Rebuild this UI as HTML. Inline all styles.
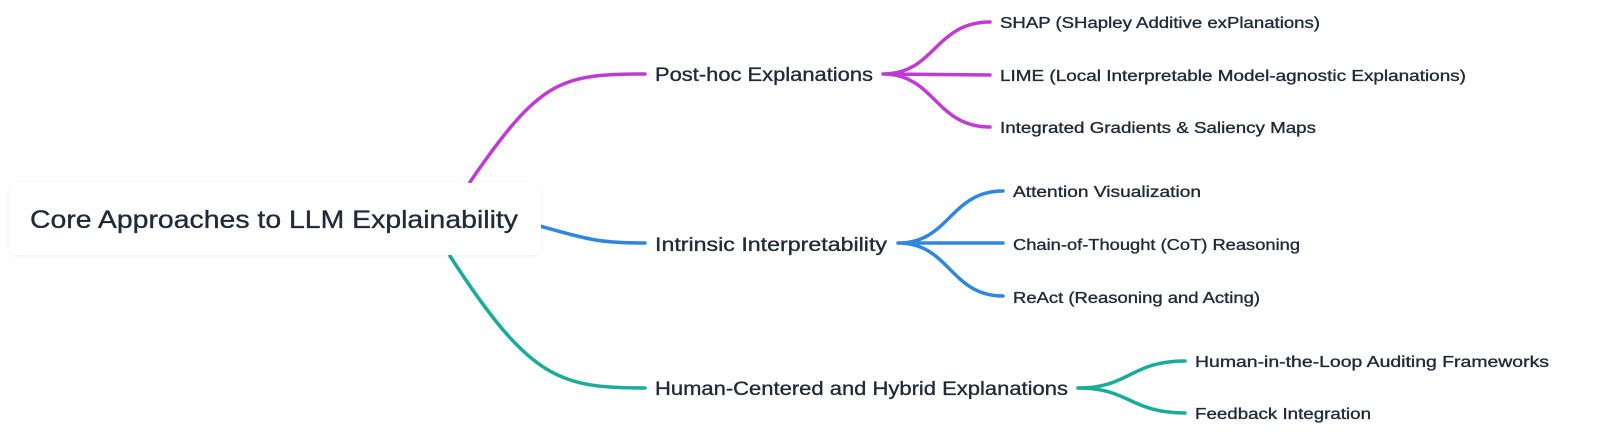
<!DOCTYPE html>
<html><head><meta charset="utf-8"><style>
html,body{margin:0;padding:0;background:#fff;width:1600px;height:445px;overflow:hidden}
text{font-family:"Liberation Sans",sans-serif;fill:#1f2b3a;stroke:#1f2b3a;stroke-width:0.35}
</style></head><body>
<svg width="1600" height="445" viewBox="0 0 1600 445" xmlns="http://www.w3.org/2000/svg">
<defs><filter id="sh" x="-5%" y="-20%" width="110%" height="140%"><feDropShadow dx="0" dy="1" stdDeviation="2" flood-color="#000" flood-opacity="0.06"/></filter></defs>
<g fill="none" stroke-width="3.5" stroke-linecap="round">
<path d="M470 182 C540 80,560 74,645 74" stroke="#c03bd4"/>
<path d="M540 226 C590 240,600 243,645 243" stroke="#2e86de"/>
<path d="M450 256 C530 380,560 388,645 388" stroke="#1aab9b"/>
<path d="M883 74 C935 74,935 22,990 22 M883 74 L990 75 M883 74 C935 74,935 127,990 127" stroke="#c03bd4"/>
<path d="M898 243 C950 243,950 191,1003 191 M898 243 L1003 243 M898 243 C950 243,950 296,1003 296" stroke="#2e86de"/>
<path d="M1078 388 C1130 388,1130 361,1185 361 M1078 388 C1130 388,1130 413,1185 413" stroke="#1aab9b"/>
</g>
<rect x="9" y="183" width="532" height="72" rx="8" fill="#fff" filter="url(#sh)"/>
<text x="30" y="228" font-size="25" textLength="488" lengthAdjust="spacingAndGlyphs">Core Approaches to LLM Explainability</text>
<g font-size="19">
<text x="655" y="81" textLength="218" lengthAdjust="spacingAndGlyphs">Post-hoc Explanations</text>
<text x="655" y="251" textLength="232" lengthAdjust="spacingAndGlyphs">Intrinsic Interpretability</text>
<text x="655" y="395" textLength="413" lengthAdjust="spacingAndGlyphs">Human-Centered and Hybrid Explanations</text>
</g>
<g font-size="15.5">
<text x="1000" y="28" textLength="320" lengthAdjust="spacingAndGlyphs">SHAP (SHapley Additive exPlanations)</text>
<text x="1000" y="81" textLength="466" lengthAdjust="spacingAndGlyphs">LIME (Local Interpretable Model-agnostic Explanations)</text>
<text x="1000" y="133" textLength="316" lengthAdjust="spacingAndGlyphs">Integrated Gradients &amp; Saliency Maps</text>
<text x="1013" y="197" textLength="188" lengthAdjust="spacingAndGlyphs">Attention Visualization</text>
<text x="1013" y="250" textLength="287" lengthAdjust="spacingAndGlyphs">Chain-of-Thought (CoT) Reasoning</text>
<text x="1013" y="303" textLength="247" lengthAdjust="spacingAndGlyphs">ReAct (Reasoning and Acting)</text>
<text x="1195" y="367" textLength="354" lengthAdjust="spacingAndGlyphs">Human-in-the-Loop Auditing Frameworks</text>
<text x="1195" y="419" textLength="176" lengthAdjust="spacingAndGlyphs">Feedback Integration</text>
</g>
</svg>
</body></html>
